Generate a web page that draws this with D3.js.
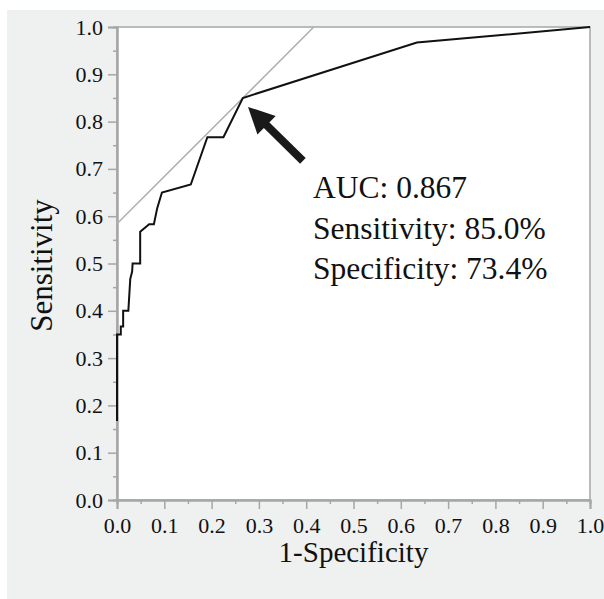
<!DOCTYPE html>
<html>
<head>
<meta charset="utf-8">
<script src="https://cdn.jsdelivr.net/npm/d3@7"></script>
<style>
  html, body { margin: 0; padding: 0; background: #fff; }
  svg { display: block; }
  text { font-family: "Liberation Serif", "Times New Roman", serif; fill: #111; }
</style>
</head>
<body>
<div id="chart"></div>
<script>
// ROC curve: 1-specificity and sensitivity
const fpr  = [0.000, 0.000, 0.008, 0.008, 0.013, 0.013, 0.024, 0.028, 0.032, 0.033, 0.049, 0.049, 0.068, 0.078, 0.085, 0.095, 0.156, 0.191, 0.225, 0.266, 0.634, 1.000];
const sens = [0.167, 0.350, 0.350, 0.367, 0.367, 0.400, 0.400, 0.467, 0.483, 0.500, 0.500, 0.567, 0.583, 0.583, 0.617, 0.650, 0.667, 0.767, 0.767, 0.850, 0.967, 1.000];

// tangent line through the optimal cut-off (slope 1)
const tangentX = [0.000, 0.416];
const tangentY = [0.584, 1.000];

// arrow pointing at the cut-off
const arrowFrom = [0.393, 0.717];
const arrowTo   = [0.277, 0.831];

const majorTicks = d3.range(0, 11).map(i => i / 10);
const minorTicks = d3.range(0, 10).map(i => i / 10 + 0.05);

const notes = ["AUC: 0.867", "Sensitivity: 85.0%", "Specificity: 73.4%"];

const W = 604, H = 599;
const margin = {left: 117, top: 27, right: 14, bottom: 99};

const svg = d3.select('#chart').append('svg')
  .attr('width', W)
  .attr('height', H);

// panel background
svg.append('rect')
  .attr('x', 7).attr('y', 10)
  .attr('width', W - 7).attr('height', H - 10)
  .attr('fill', '#eff0f0');

const x = d3.scaleLinear().domain([0, 1]).range([margin.left, W - margin.right]);
const y = d3.scaleLinear().domain([0, 1]).range([H - margin.bottom, margin.top]);

// plot area
svg.append('rect')
  .attr('x', x(0)).attr('y', y(1))
  .attr('width', x(1) - x(0)).attr('height', y(0) - y(1))
  .attr('fill', '#fff')
  .attr('stroke', '#a6a6a6')
  .attr('stroke-width', 1.5);

const gx = svg.append('g').attr('transform', `translate(0,${y(0)})`);
gx.call(d3.axisBottom(x).tickValues(majorTicks).tickSize(9).tickPadding(8).tickFormat(d3.format('.1f')));
const gxm = svg.append('g').attr('transform', `translate(0,${y(0)})`);
gxm.call(d3.axisBottom(x).tickValues(minorTicks).tickSize(4).tickFormat(''));

const gy = svg.append('g').attr('transform', `translate(${x(0)},0)`);
gy.call(d3.axisLeft(y).tickValues(majorTicks).tickSize(9).tickPadding(5).tickFormat(d3.format('.1f')));
const gym = svg.append('g').attr('transform', `translate(${x(0)},0)`);
gym.call(d3.axisLeft(y).tickValues(minorTicks).tickSize(4).tickFormat(''));

[gx, gxm, gy, gym].forEach(g => {
  g.selectAll('.domain').attr('stroke', '#a6a6a6').attr('stroke-width', 2);
  g.selectAll('.tick line').attr('stroke', '#a6a6a6').attr('stroke-width', 1.5);
  g.selectAll('.tick text')
    .attr('font-family', '"Liberation Serif", "Times New Roman", serif')
    .attr('font-size', 22)
    .attr('fill', '#222');
});

// tangent line
svg.append('line')
  .attr('x1', x(tangentX[0])).attr('y1', y(tangentY[0]))
  .attr('x2', x(tangentX[1])).attr('y2', y(tangentY[1]))
  .attr('stroke', '#b0b0b0')
  .attr('stroke-width', 1.6);

// roc curve
const line = d3.line().x(d => x(d[0])).y(d => y(d[1]));
svg.append('path')
  .datum(fpr.map((v, i) => [v, sens[i]]))
  .attr('d', line)
  .attr('fill', 'none')
  .attr('stroke', '#111')
  .attr('stroke-width', 2)
  .attr('stroke-linejoin', 'miter');

// arrow
const ax1 = x(arrowFrom[0]), ay1 = y(arrowFrom[1]);
const ax2 = x(arrowTo[0]), ay2 = y(arrowTo[1]);
const ang = Math.atan2(ay2 - ay1, ax2 - ax1);
const headLen = 26, headW = 13;
const bx = ax2 - headLen * Math.cos(ang), by = ay2 - headLen * Math.sin(ang);
svg.append('line')
  .attr('x1', ax1).attr('y1', ay1)
  .attr('x2', bx + 2 * Math.cos(ang)).attr('y2', by + 2 * Math.sin(ang))
  .attr('stroke', '#1a1a1a')
  .attr('stroke-width', 8);
svg.append('path')
  .attr('d', `M${ax2},${ay2}` +
    `L${bx + headW * Math.sin(ang)},${by - headW * Math.cos(ang)}` +
    `L${bx - headW * Math.sin(ang)},${by + headW * Math.cos(ang)}Z`)
  .attr('fill', '#1a1a1a');

// notes
svg.append('g').selectAll('text')
  .data(notes)
  .join('text')
  .attr('x', 313)
  .attr('y', (d, i) => 198 + i * 40.5)
  .attr('font-size', 31.5)
  .text(d => d);

// axis titles
svg.append('text')
  .attr('x', (x(0) + x(1)) / 2)
  .attr('y', 562)
  .attr('text-anchor', 'middle')
  .attr('font-size', 29)
  .text('1-Specificity');

svg.append('text')
  .attr('transform', `translate(52,${(y(0) + y(1)) / 2 + 2}) rotate(-90)`)
  .attr('text-anchor', 'middle')
  .attr('font-size', 31)
  .text('Sensitivity');
</script>
</body>
</html>
